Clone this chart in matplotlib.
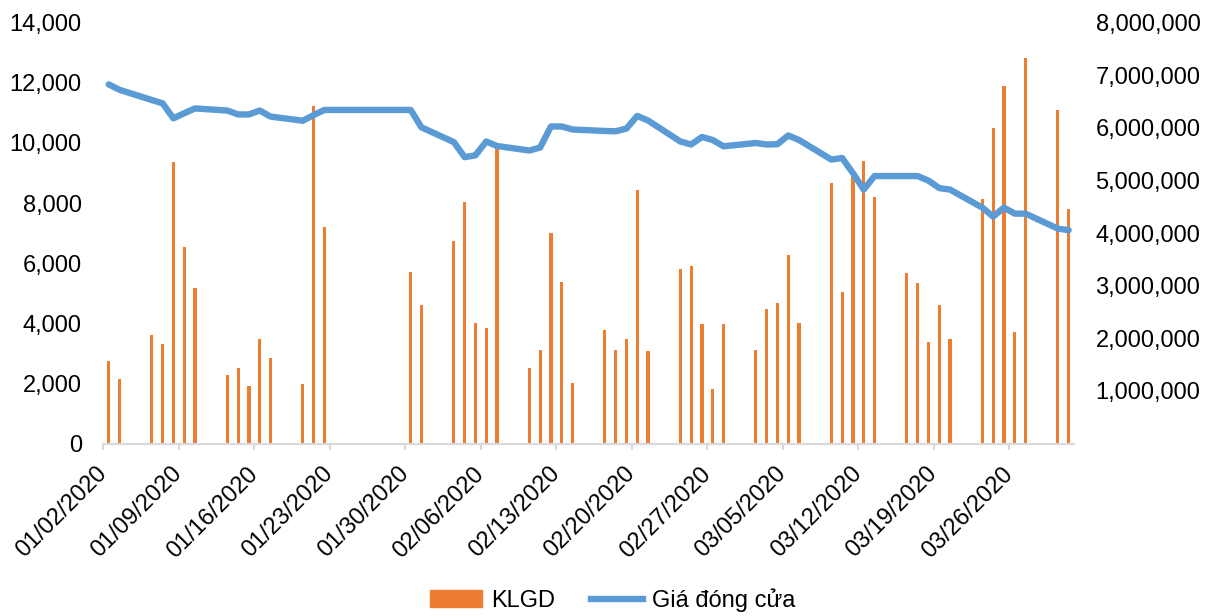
from datetime import date

import matplotlib
matplotlib.use("Agg")
import matplotlib.pyplot as plt
import matplotlib.dates as mdates
import matplotlib.transforms as mtransforms
from matplotlib.lines import Line2D
from matplotlib.patches import Patch
from matplotlib.ticker import FuncFormatter

# trading days, Q1 2020 (market closed 23-29 Jan for Tet)
days = [
    "2020-01-02", "2020-01-03", "2020-01-06", "2020-01-07", "2020-01-08", "2020-01-09", "2020-01-10",
    "2020-01-13", "2020-01-14", "2020-01-15", "2020-01-16", "2020-01-17",
    "2020-01-20", "2020-01-21", "2020-01-22", "2020-01-30", "2020-01-31",
    "2020-02-03", "2020-02-04", "2020-02-05", "2020-02-06", "2020-02-07",
    "2020-02-10", "2020-02-11", "2020-02-12", "2020-02-13", "2020-02-14",
    "2020-02-17", "2020-02-18", "2020-02-19", "2020-02-20", "2020-02-21",
    "2020-02-24", "2020-02-25", "2020-02-26", "2020-02-27", "2020-02-28",
    "2020-03-02", "2020-03-03", "2020-03-04", "2020-03-05", "2020-03-06",
    "2020-03-09", "2020-03-10", "2020-03-11", "2020-03-12", "2020-03-13",
    "2020-03-16", "2020-03-17", "2020-03-18", "2020-03-19", "2020-03-20",
    "2020-03-23", "2020-03-24", "2020-03-25", "2020-03-26", "2020-03-27",
    "2020-03-30", "2020-03-31",
]

# closing price (left axis)
close = [
    11950, 11770, 11430, 11320, 10820, 10990, 11150,
    11080, 10950, 10950, 11080, 10880,
    10740, 10930, 11100, 11100, 10520,
    10030, 9530, 9590, 10050, 9900,
    9750, 9850, 10550, 10550, 10450,
    10400, 10390, 10480, 10900, 10750,
    10050, 9950, 10200, 10100, 9890,
    10000, 9950, 9960, 10250, 10100,
    9450, 9500, 9000, 8450, 8900,
    8900, 8900, 8750, 8500, 8450,
    7850, 7550, 7850, 7650, 7650,
    7150, 7100,
]

# trading volume (right axis)
klgd = [
    1560000, 1230000, 2060000, 1890000, 5360000, 3730000, 2960000,
    1300000, 1430000, 1100000, 1980000, 1630000,
    1130000, 6410000, 4120000, 3270000, 2630000,
    3850000, 4600000, 2300000, 2200000, 5630000,
    1440000, 1770000, 4010000, 3080000, 1150000,
    2150000, 1770000, 1980000, 4820000, 1760000,
    3310000, 3370000, 2280000, 1030000, 2280000,
    1780000, 2550000, 2680000, 3580000, 2290000,
    4950000, 2880000, 5150000, 5370000, 4690000,
    3240000, 3060000, 1930000, 2630000, 1980000,
    4640000, 6000000, 6790000, 2130000, 7330000,
    6340000, 4460000,
]

orange = "#ED7D31"
blue = "#5B9BD5"
grey = "#D9D9D9"
font = ["Liberation Sans", "DejaVu Sans"]
plt.rcParams["font.family"] = font

x = [mdates.date2num(date.fromisoformat(d)) + 0.5 for d in days]
x0 = mdates.date2num(date(2020, 1, 2))
x1 = mdates.date2num(date(2020, 4, 1))

fig = plt.figure(figsize=(12.11, 6.16), dpi=100)
ax = fig.add_axes([0.0853, 0.280, 0.8016, 0.683])
ax2 = ax.twinx()

ax2.bar(x, klgd, width=0.3, color=orange)
ax.plot(x, close, color=blue, lw=4.6, solid_joinstyle="round", solid_capstyle="round")

# price line drawn over the bars
ax.set_zorder(ax2.get_zorder() + 1)
ax.patch.set_visible(False)

ax.set_xlim(x0, x1)
ax.set_ylim(0, 14000)
ax2.set_ylim(0, 8000000)
ax.set_yticks(range(0, 14001, 2000))
ax2.set_yticks(range(1000000, 8000001, 1000000))
thousands = FuncFormatter(lambda v, p: f"{v:,.0f}")
ax.yaxis.set_major_formatter(thousands)
ax2.yaxis.set_major_formatter(thousands)

ticks = [x0 + 7 * i for i in range(13)]
ax.set_xticks(ticks)
ax.set_xticklabels([mdates.num2date(t).strftime("%m/%d/%Y") for t in ticks],
                   rotation=45, ha="right", va="center", rotation_mode="anchor")
shift = mtransforms.ScaledTranslation(0.05, -0.01, fig.dpi_scale_trans)
for lab in ax.get_xticklabels():
    lab.set_transform(lab.get_transform() + shift)

for a in (ax, ax2):
    for s in ("top", "left", "right"):
        a.spines[s].set_visible(False)
    a.spines["bottom"].set_color(grey)
    a.spines["bottom"].set_linewidth(1.5)
    a.tick_params(axis="y", length=0, labelsize=17, pad=15.5, colors="#000000")
ax.tick_params(axis="x", length=4.5, width=1.5, color=grey, labelsize=17, pad=15)

handles = [Patch(color=orange), Line2D([], [], color=blue, lw=4.6)]
fig.legend(handles, ["KLGD", "Giá đóng cửa"], loc="center", bbox_to_anchor=(0.506, 0.026),
           ncol=2, frameon=False, fontsize=17, handlelength=2.2, handletextpad=0.4,
           columnspacing=1.5)

fig.savefig("out.png", dpi=100)
